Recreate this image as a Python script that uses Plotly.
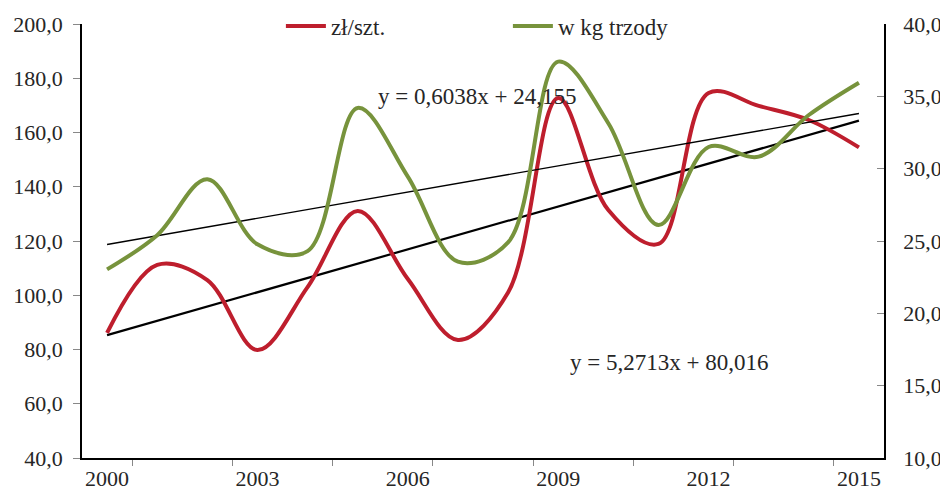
import plotly.graph_objects as go

years = list(range(2000, 2016))
zl_szt = [86.1, 111.2, 105.6, 79.8, 103.0, 131.1, 106.0, 83.5, 101.0, 172.7, 131.4, 118.9, 174.6, 169.8, 164.6, 154.5]
w_kg = [23.04, 25.4, 29.27, 24.77, 24.3, 34.2, 29.45, 23.57, 24.9, 37.4, 33.14, 26.1, 31.5, 30.83, 33.71, 35.94]

trend_zl = (5.2713, 80.016)
trend_kg = (0.6038, 24.155)
trend_labels = ["y = 5,2713x + 80,016", "y = 0,6038x + 24,155"]

left_ticks = [40, 60, 80, 100, 120, 140, 160, 180, 200]
right_ticks = [10, 15, 20, 25, 30, 35, 40]
x_labels = [2000, 2003, 2006, 2009, 2012, 2015]

RED = "#BE1E2D"
GREEN = "#77933C"
FONT = "Liberation Serif"
TXT = "#262626"

idx = list(range(1, len(years) + 1))
tr_zl = [trend_zl[0] * i + trend_zl[1] for i in idx]
tr_kg = [trend_kg[0] * i + trend_kg[1] for i in idx]

fig = go.Figure()
fig.add_trace(go.Scatter(x=years, y=tr_zl, mode="lines", line=dict(color="black", width=2.2),
                         showlegend=False, yaxis="y"))
fig.add_trace(go.Scatter(x=years, y=tr_kg, mode="lines", line=dict(color="black", width=1.4),
                         showlegend=False, yaxis="y2"))
fig.add_trace(go.Scatter(x=years, y=zl_szt, name="zł/szt.", mode="lines",
                         line=dict(color=RED, width=4, shape="spline", smoothing=1.0), yaxis="y"))
fig.add_trace(go.Scatter(x=years, y=w_kg, name="w kg trzody", mode="lines",
                         line=dict(color=GREEN, width=4, shape="spline", smoothing=1.0), yaxis="y2"))

fig.add_annotation(text=trend_labels[1], xref="paper", yref="paper", x=0.4925, y=0.834,
                   xanchor="center", yanchor="middle",
                   showarrow=False, font=dict(family=FONT, size=23, color=TXT))
fig.add_annotation(text=trend_labels[0], xref="paper", yref="paper", x=0.732, y=0.221,
                   xanchor="center", yanchor="middle",
                   showarrow=False, font=dict(family=FONT, size=23, color=TXT))

fig.update_layout(
    width=940, height=482,
    margin=dict(l=74, r=64, t=16, b=32, autoexpand=False),
    paper_bgcolor="white", plot_bgcolor="white",
    font=dict(family=FONT, size=22, color=TXT),
    showlegend=True,
    legend=dict(orientation="h", x=0.248, y=0.995, xanchor="left", yanchor="middle",
                bgcolor="rgba(0,0,0,0)", font=dict(family=FONT, size=23, color=TXT),
                entrywidth=172, entrywidthmode="pixels", itemwidth=40),
    xaxis=dict(range=[1999.5, 2015.5], tickvals=x_labels, ticktext=[str(v) for v in x_labels],
               ticks="", showgrid=False, zeroline=False, showline=True, linecolor="black", linewidth=1.5,
               ticklabelstandoff=0, automargin=False, tickfont=dict(family=FONT, size=22, color=TXT),
               minor=dict(tickvals=[2000.5 + 2 * k for k in range(8)], ticks="outside",
                          ticklen=6, tickcolor="#888", showgrid=False)),
    yaxis=dict(range=[40, 200], tickvals=left_ticks, ticktext=[f"{v:.1f}".replace(".", ",") for v in left_ticks],
               ticks="outside", ticklen=7, tickcolor="#888", showgrid=False, zeroline=False,
               showline=True, linecolor="black", linewidth=1.5, ticklabelstandoff=6, automargin=False,
               tickfont=dict(family=FONT, size=22, color=TXT)),
    yaxis2=dict(range=[10, 40], tickvals=right_ticks, ticktext=[f"{v:.1f}".replace(".", ",") for v in right_ticks],
                overlaying="y", side="right", ticks="inside", ticklen=7, tickcolor="#888",
                showgrid=False, zeroline=False, showline=True, linecolor="black", linewidth=1.5,
                ticklabelstandoff=13, automargin=False, tickfont=dict(family=FONT, size=22, color=TXT)),
)

fig.write_html("out.html")
